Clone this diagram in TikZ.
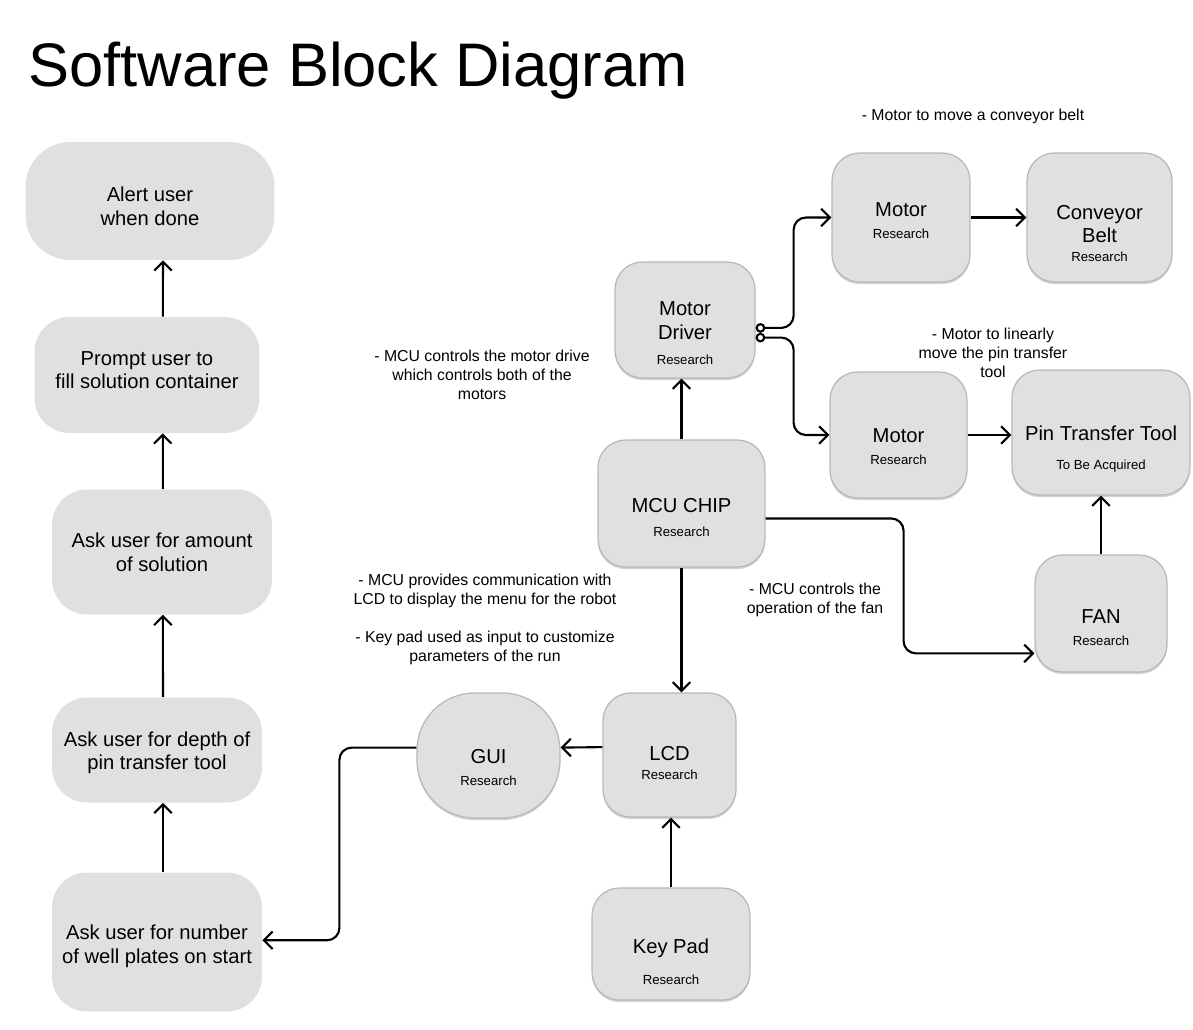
\documentclass[tikz,border=0pt]{standalone}
\usepackage{fontspec}
\setmainfont{Liberation Sans}
\usetikzlibrary{arrows.meta, shadows}
\definecolor{boxgray}{HTML}{E0E0E0}
\newcommand{\status}[1]{{\fontsize{7.5}{9}\selectfont #1}}
\newcommand{\sink}[1]{\rule{0pt}{#1}}

\begin{document}
\begin{tikzpicture}[
    x=0.02cm, y=-0.02cm,
    userbox/.style={rectangle, rounded corners=0.7cm, fill=boxgray, align=center, inner sep=0pt, font=\fontsize{11.5}{13.5}\selectfont},
    partbox/.style={rectangle, rounded corners=0.55cm, fill=boxgray, draw=black!28, line width=0.7pt, drop shadow={shadow xshift=0pt, shadow yshift=-1.2pt, opacity=0.35}, align=center, inner sep=0pt, font=\fontsize{11.5}{13.5}\selectfont},
    note/.style={align=center, font=\fontsize{9}{10.8}\selectfont},
    arrow/.style={-{Straight Barb[length=5pt, width=10pt]}, line width=1.2pt},
    elbow/.style={arrow, rounded corners=7pt},
    split/.style={elbow, {Circle[open, length=5.5pt, width=5.5pt]}-{Straight Barb[length=5pt, width=10pt]}}
]
\useasboundingbox (0,0) rectangle (1193,1029);

% Title
\node[anchor=base west, inner sep=0pt, font=\fontsize{35}{40}\selectfont] (title) at (28,86) {Software Block Diagram};

% User steps
\node[userbox, rounded corners=0.9cm, minimum width=4.98cm, minimum height=2.36cm] (alert) at (150,201) {\sink{14pt}Alert user\\when done};
\node[userbox, minimum width=4.5cm, minimum height=2.32cm] (prompt) at (147,375) {Prompt user to\\fill solution container\rule[-5.5pt]{0pt}{5.5pt}};
\node[userbox, minimum width=4.4cm, minimum height=2.5cm] (amount) at (162,552) {Ask user for amount\\of solution};
\node[userbox, minimum width=4.2cm, minimum height=2.1cm] (depth) at (157,750) {\sink{11.5pt}Ask user for depth of\\pin transfer tool};
\node[userbox, minimum width=4.2cm, minimum height=2.78cm] (number) at (157,942) {\sink{13pt}Ask user for number\\of well plates on start};

% Hardware parts
\node[partbox, minimum width=2.8cm, minimum height=2.32cm] (driver) at (685,320) {\sink{23pt}Motor\\Driver\\[1pt]\status{Research}};
\node[partbox, minimum width=3.34cm, minimum height=2.54cm] (mcu) at (681.5,503.5) {\sink{23.6pt}MCU CHIP\\\status{Research}};
\node[partbox, minimum width=2.76cm, minimum height=2.58cm] (motortop) at (901,217.5) {\sink{11pt}Motor\\[-1pt]\status{Research}};
\node[partbox, minimum width=2.9cm, minimum height=2.58cm] (belt) at (1099.5,217.5) {\sink{26pt}Conveyor\\Belt\\[-2.8pt]\status{Research}};
\node[partbox, minimum width=2.74cm, minimum height=2.52cm] (motormid) at (898.5,435) {\sink{20.7pt}Motor\\[-1pt]\status{Research}};
\node[partbox, minimum width=3.56cm, minimum height=2.5cm] (pin) at (1101,432.5) {\sink{27pt}Pin Transfer Tool\\[3pt]\status{To Be Acquired}};
\node[partbox, minimum width=2.64cm, minimum height=2.34cm] (fan) at (1101,613.5) {\sink{23.5pt}FAN\\[-1pt]\status{Research}};
\node[partbox, rounded corners=1.15cm, minimum width=2.86cm, minimum height=2.5cm] (gui) at (488.5,755.5) {\sink{21.2pt}GUI\\[-1pt]\status{Research}};
\node[partbox, minimum width=2.66cm, minimum height=2.48cm] (lcd) at (669.5,755) {\sink{17.3pt}LCD\\[-2.3pt]\status{Research}};
\node[partbox, minimum width=3.16cm, minimum height=2.24cm] (keypad) at (671,944) {\sink{28.6pt}Key Pad\\[4.5pt]\status{Research}};

% Notes
\node[note] (belt note) at (973,116) {- Motor to move a conveyor belt};
\node[note] (pin note) at (993,353) {- Motor to linearly\\move the pin transfer\\tool};
\node[note] (driver note) at (482,375) {- MCU controls the motor drive\\which controls both of the\\motors};
\node[note] (lcd note) at (485,619) {- MCU provides communication with\\LCD to display the menu for the robot\\[10.8pt]- Key pad used as input to customize\\parameters of the run};
\node[note] (fan note) at (815,600) {- MCU controls the\\operation of the fan};

% User flow
\draw[arrow] ([xshift=3.4pt]number.north) -- ([xshift=3.4pt]depth.south);
\draw[arrow] ([xshift=3.4pt]depth.north) -- ([xshift=0.5pt]amount.south);
\draw[arrow] ([xshift=0.5pt]amount.north) -- ([xshift=9pt]prompt.south);
\draw[arrow] ([xshift=9pt]prompt.north) -- ([xshift=7.4pt]alert.south);

% Hardware connections
\draw[arrow] (mcu.north) -- (mcu.north |- driver.south);
\draw[split] ([yshift=-4.5pt]driver.east) -- ++(38,0) |- (motortop.west);
\draw[split] ([yshift=-10pt]driver.east) -- ++(38,0) |- (motormid.west);
\draw[arrow] (motortop.east) -- (belt.west);
\draw[arrow] (motormid.east) -- (motormid.east -| pin.west);
\draw[arrow] (fan.north) -- (fan.north |- pin.south);
\draw[elbow] ([yshift=-8.5pt]mcu.east) -- ++(138,0) |- ([yshift=-22.7pt]fan.west);
\draw[arrow] (mcu.south) -- (mcu.south |- lcd.north);
\draw[arrow] ([yshift=4.5pt]lcd.west) -- ([yshift=4.5pt]gui.east);
\draw[arrow] (keypad.north) -- (keypad.north |- lcd.south);
\draw[elbow] ([yshift=4.5pt]gui.west) -- ++(-77,0) |- ([yshift=1pt]number.east);

\end{tikzpicture}
\end{document}
